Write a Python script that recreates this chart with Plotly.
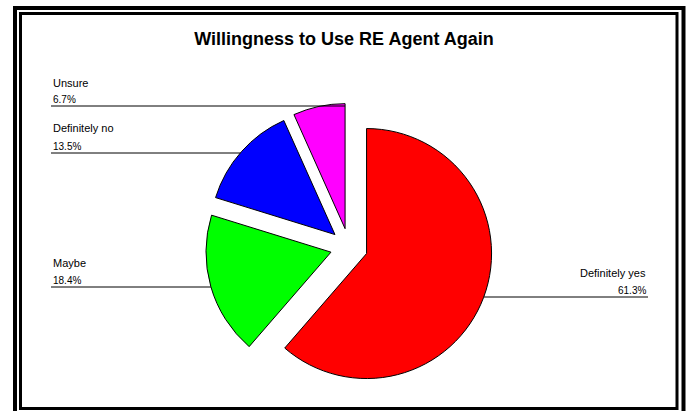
import math
import plotly.graph_objects as go

W, H = 686, 411

# ---- data ----
categories = ["Definitely yes", "Maybe", "Definitely no", "Unsure"]
values = [61.3, 18.4, 13.5, 6.7]
colors = ["#FF0000", "#00FF00", "#0000FF", "#FF00FF"]
pct_labels = ["61.3%", "18.4%", "13.5%", "6.7%"]
title_text = "Willingness to Use RE Agent Again"

# ---- layout parameters (pixels) ----
CX, CY = 349, 247        # pie centre
R = 125                  # slice radius
PULL = 0.15              # explode fraction
half = R * (1 + PULL)

def px(x):
    return x / W

def py(y):
    return 1 - y / H

fig = go.Figure(go.Pie(
    labels=categories,
    values=values,
    sort=False,
    direction="clockwise",
    rotation=0,
    pull=[PULL] * len(values),
    marker=dict(colors=colors, line=dict(color="black", width=1)),
    textinfo="none",
    hoverinfo="label+percent",
    showlegend=False,
    domain=dict(x=[px(CX - half), px(CX + half)], y=[py(CY + half), py(CY - half)]),
))

# label placement: (side, line y, name centre y, pct centre y)
label_pos = {
    "Unsure": ("left", 106, 82.5, 99.5),
    "Definitely no": ("left", 153, 128, 146),
    "Maybe": ("left", 287, 263, 280),
    "Definitely yes": ("right", 297, 273, 290),
}
LEFT_X, RIGHT_X = 51, 648

total = sum(values)
start = 0.0
shapes = []
annotations = []
for cat, val, pct in zip(categories, values, pct_labels):
    span = 360 * val / total
    mid = math.radians(start + span / 2)
    ax = CX + PULL * R * math.sin(mid)
    ay = CY - PULL * R * math.cos(mid)
    side, ly, ny, pyy = label_pos[cat]
    dy = ly - ay
    dx = math.sqrt(max(R * R - dy * dy, 0))
    if side == "left":
        x0, x1 = LEFT_X, ax - dx
        if cat == "Unsure":
            x1 = ax  # meets the straight edge of the slice
        anchor, tx = "left", LEFT_X
    else:
        x0, x1 = ax + dx, RIGHT_X
        anchor, tx = "right", RIGHT_X
    shapes.append(dict(type="line", xref="paper", yref="paper",
                       x0=px(x0), x1=px(x1), y0=py(ly), y1=py(ly),
                       line=dict(color="black", width=1)))
    annotations.append(dict(text=cat, x=px(tx), y=py(ny), xref="paper", yref="paper",
                            xanchor=anchor, yanchor="middle", showarrow=False,
                            font=dict(family="Liberation Sans, Arial", size=11, color="black")))
    annotations.append(dict(text=pct, x=px(tx), y=py(pyy), xref="paper", yref="paper",
                            xanchor=anchor, yanchor="middle", showarrow=False,
                            font=dict(family="Liberation Sans, Arial", size=10, color="black")))
    start += span

# double frame
shapes.append(dict(type="rect", xref="paper", yref="paper",
                   x0=px(15), x1=px(683.5), y0=py(8), y1=py(413),
                   line=dict(color="black", width=4)))
shapes.append(dict(type="rect", xref="paper", yref="paper",
                   x0=px(20.5), x1=px(677), y0=py(13.5), y1=py(408.5),
                   line=dict(color="black", width=3)))

fig.update_layout(
    width=W, height=H,
    margin=dict(l=0, r=0, t=0, b=0),
    paper_bgcolor="white",
    plot_bgcolor="white",
    title=dict(text="<b>" + title_text + "</b>", x=px(344), xanchor="center",
               y=py(38.5), yanchor="middle", yref="container",
               font=dict(family="Liberation Sans, Arial", size=18, color="black")),
    shapes=shapes,
    annotations=annotations,
)

fig.write_html("out.html",
               config={"displayModeBar": False},
               post_script="document.body.style.margin='0';document.body.style.overflow='hidden';")
